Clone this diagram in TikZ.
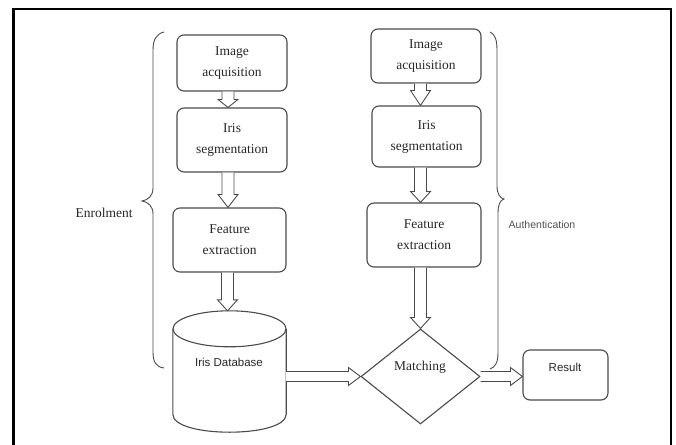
\documentclass[tikz,border=0pt]{standalone}
\usepackage{fontspec}
\setmainfont{Liberation Serif}
\newfontfamily\sansfam{Liberation Sans}
\usetikzlibrary{shapes.geometric,calc}

\definecolor{ink}{HTML}{262626}
\definecolor{edge}{HTML}{4A4A4A}

\tikzset{
  stage/.style={draw=edge, line width=1.1pt, rounded corners=7pt, inner sep=0pt,
    align=center, text=ink, font=\fontsize{13.5}{21}\selectfont},
  hollow/.style={draw=edge, line width=0.9pt, fill=white, line join=miter},
  bracket/.style={draw=edge, line width=0.9pt},
  serifnote/.style={text=ink, inner sep=0pt, font=\fontsize{13.5}{16}\selectfont},
  sansnote/.style={text=ink, inner sep=0pt, font=\sansfam\fontsize{11.5}{14}\selectfont},
}

% hollow block arrow pointing down: from, to, head length
\newcommand{\downblock}[3]{%
  \path[hollow] let \p1=(#1), \p2=(#2) in
    (\x1-6pt,\y1) -- (\x1-6pt,\y2+#3) -- (\x1-10pt,\y2+#3) -- (\x1,\y2)
    -- (\x1+10pt,\y2+#3) -- (\x1+6pt,\y2+#3) -- (\x1+6pt,\y1);}
% hollow block arrow pointing right: from, to, head length
\newcommand{\rightblock}[3]{%
  \path[hollow] let \p1=(#1), \p2=(#2) in
    (\x1,\y2+5pt) -- (\x2-#3,\y2+5pt) -- (\x2-#3,\y2+9pt) -- (\x2,\y2)
    -- (\x2-#3,\y2-9pt) -- (\x2-#3,\y2-5pt) -- (\x1,\y2-5pt);}

\begin{document}
\begin{tikzpicture}[x=1pt,y=-1pt]
\useasboundingbox (0,0) rectangle (676,444);

% outer frame
\draw[line width=2.5pt, line join=miter] (13.3,446) -- (13.3,9) -- (671,9) -- (671,446);

% enrolment column
\node[stage, minimum width=110pt, minimum height=56pt] (acqL) at (232,63) {Image\\acquisition};
\node[stage, minimum width=110pt, minimum height=64pt] (segL) at (232,140) {Iris\\segmentation};
\node[stage, minimum width=113pt, minimum height=64pt] (featL) at (229.5,240) {Feature\\extraction};

% database cylinder
\node[minimum width=113pt, minimum height=121pt, inner sep=0pt] (db) at (229.5,371.5) {};
\draw[draw=edge, line width=1.1pt]
  (db.north west) ++(0,18) coordinate (dbtl)
  (db.north east) ++(0,18) coordinate (dbtr)
  (db.south west) ++(0,-18) coordinate (dbbl)
  (db.south east) ++(0,-18) coordinate (dbbr);
\draw[draw=edge, line width=1.1pt]
  ($(dbtl)!0.5!(dbtr)$) ellipse [x radius=56.5, y radius=18];
\draw[draw=edge, line width=1.1pt]
  (dbtl) -- (dbbl) .. controls ($(dbbl)+(0,24)$) and ($(dbbr)+(0,24)$) .. (dbbr) -- (dbtr);
\node[sansnote] (dbtext) at (229,362) {Iris Database};

% authentication column
\node[stage, minimum width=110pt, minimum height=54pt] (acqR) at (426,56) {Image\\acquisition};
\node[stage, minimum width=109pt, minimum height=61pt] (segR) at (426.5,136.5) {Iris\\segmentation};
\node[stage, minimum width=114pt, minimum height=64pt] (featR) at (424,235) {Feature\\extraction};

% matching and result
\node[diamond, draw=edge, line width=1.1pt, inner sep=0pt, aspect=1.25,
      minimum width=119pt, minimum height=95pt] (match) at (420.5,376.5) {};
\node[serifnote] (matchtext) at (420,367) {Matching};
\node[stage, minimum width=85pt, minimum height=50pt] (result) at (565.5,375) {};
\node[sansnote] (resulttext) at (565,367) {Result};

% flow arrows
\downblock{$(acqL.south)+(-4,0)$}{$(segL.north)+(-4,0)$}{8pt}
\downblock{$(segL.south)+(-4,0)$}{$(featL.north)+(-2,0)$}{13pt}
\downblock{$(featL.south)+(-2,0)$}{$(db.north)+(-2,0)$}{11pt}
\downblock{$(acqR.south)+(-5.5,0)$}{$(segR.north)+(-6,0)$}{15pt}
\downblock{$(segR.south)+(-6,0)$}{$(featR.north)+(-3.5,0)$}{11pt}
\downblock{$(featR.south)+(-3.5,0)$}{match.north}{11pt}
\rightblock{$(db.east)+(0,5.5)$}{match.west}{12pt}
\rightblock{match.east}{$(result.west)+(0,1.5)$}{12pt}

% braces
\coordinate (lbtop) at (164,32);
\coordinate (lbtip) at (142,201);
\coordinate (lbbot) at (164,368);
\draw[bracket] (lbtop) .. controls (156,34) and (153,40) .. (153,50) -- (153,188)
  .. controls (153,196) and (148,200) .. (lbtip)
  .. controls (148,202) and (153,206) .. (153,214) -- (153,352)
  .. controls (153,362) and (156,367) .. (lbbot);
\node[serifnote] (enrol) at (104,213) {Enrolment};

\coordinate (rbtop) at (490,32);
\coordinate (rbtip) at (504,199);
\coordinate (rbbot) at (490,369);
\draw[bracket] (rbtop) .. controls (495,34) and (497,40) .. (497,50) -- (497,186)
  .. controls (497,194) and (500,198) .. (rbtip)
  .. controls (500,200) and (498,205) .. (498,213) -- (498,353)
  .. controls (498,363) and (495,367) .. (rbbot);
\node[text=ink!80, inner sep=0pt, font=\sansfam\fontsize{10.5}{13}\selectfont] (auth) at (542,225) {Authentication};
\end{tikzpicture}
\end{document}
